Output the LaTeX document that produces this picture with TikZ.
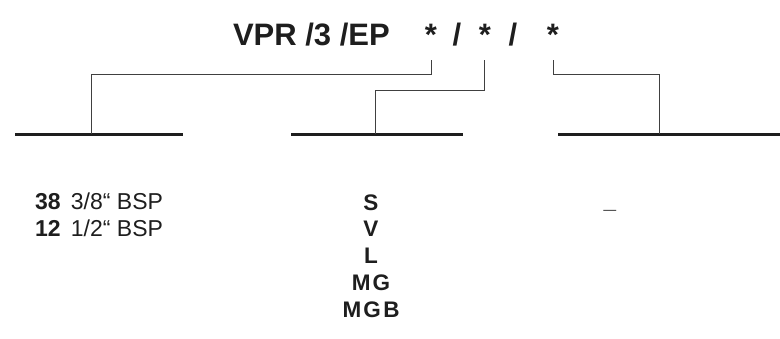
\documentclass[tikz,border=0pt]{standalone}
\usepackage{fontspec}
\setmainfont{Liberation Sans}
\usepackage{xcolor}
\usepackage{tikz}
\usetikzlibrary{positioning}
\definecolor{inkgray}{HTML}{1E1E1E}
\tikzset{
    txt/.style = {inner sep=0pt, outer sep=0pt, text=inkgray},
    codetxt/.style = {txt, font=\fontsize{31}{31}\selectfont\bfseries, anchor=base},
    listtxt/.style = {txt, font=\fontsize{23}{23}\selectfont, anchor=base west},
    opttxt/.style = {txt, font=\fontsize{22.5}{22.5}\selectfont\bfseries\addfontfeature{LetterSpace=10}, anchor=base},
    lead/.style = {draw=inkgray!85, line width=1pt},
    bar/.style = {draw=inkgray, line width=3pt}
}

\begin{document}
\begin{tikzpicture}
            [x=1pt, y=-1pt]
            \useasboundingbox (0,0) rectangle (780,338);

            % order code
            \node [codetxt, anchor=base west] (code) at (233,45) {VPR /3 /EP};
            \node [codetxt] (star1) at (431,45) {*};
            \node [codetxt] (sl1) at (457,45) {/};
            \node [codetxt] (star2) at (485,45) {*};
            \node [codetxt] (sl2) at (513,45) {/};
            \node [codetxt] (star3) at (553,45) {*};

            % bars
            \coordinate (bar1w) at (15,134);  \coordinate (bar1e) at (183,134);
            \coordinate (bar2w) at (291,134); \coordinate (bar2e) at (463,134);
            \coordinate (bar3w) at (558,134); \coordinate (bar3e) at (780,134);
            \draw [bar] (bar1w) -- (bar1e);
            \draw [bar] (bar2w) -- (bar2e);
            \draw [bar] (bar3w) -- (bar3e);

            % leads
            \coordinate (t1) at (431,60); \coordinate (b1) at (91,134);
            \coordinate (t2) at (484,60); \coordinate (b2) at (375,134);
            \coordinate (t3) at (553,60); \coordinate (b3) at (659,134);
            \draw [lead] (t1) |- (b1 |- 0,74) -- (b1);
            \draw [lead] (t2) |- (b2 |- 0,90) -- (b2);
            \draw [lead] (t3) |- (b3 |- 0,74) -- (b3);

            % options
            \node [listtxt] (p38) at (35,209) {\textbf{38}\hspace{0.45em}3/8“ BSP};
            \node [listtxt] (p12) at (35,236) {\textbf{12}\hspace{0.45em}1/2“ BSP};
            \node [opttxt] (oS) at (371,210) {S};
            \node [opttxt] (oV) at (371,236) {V};
            \node [opttxt] (oL) at (371,263) {L};
            \node [opttxt] (oMG) at (371,290) {MG};
            \node [opttxt] (oMGB) at (371,317) {MGB};
            \node [opttxt] (none) at (610,208) {\_};
\end{tikzpicture}
\end{document}
